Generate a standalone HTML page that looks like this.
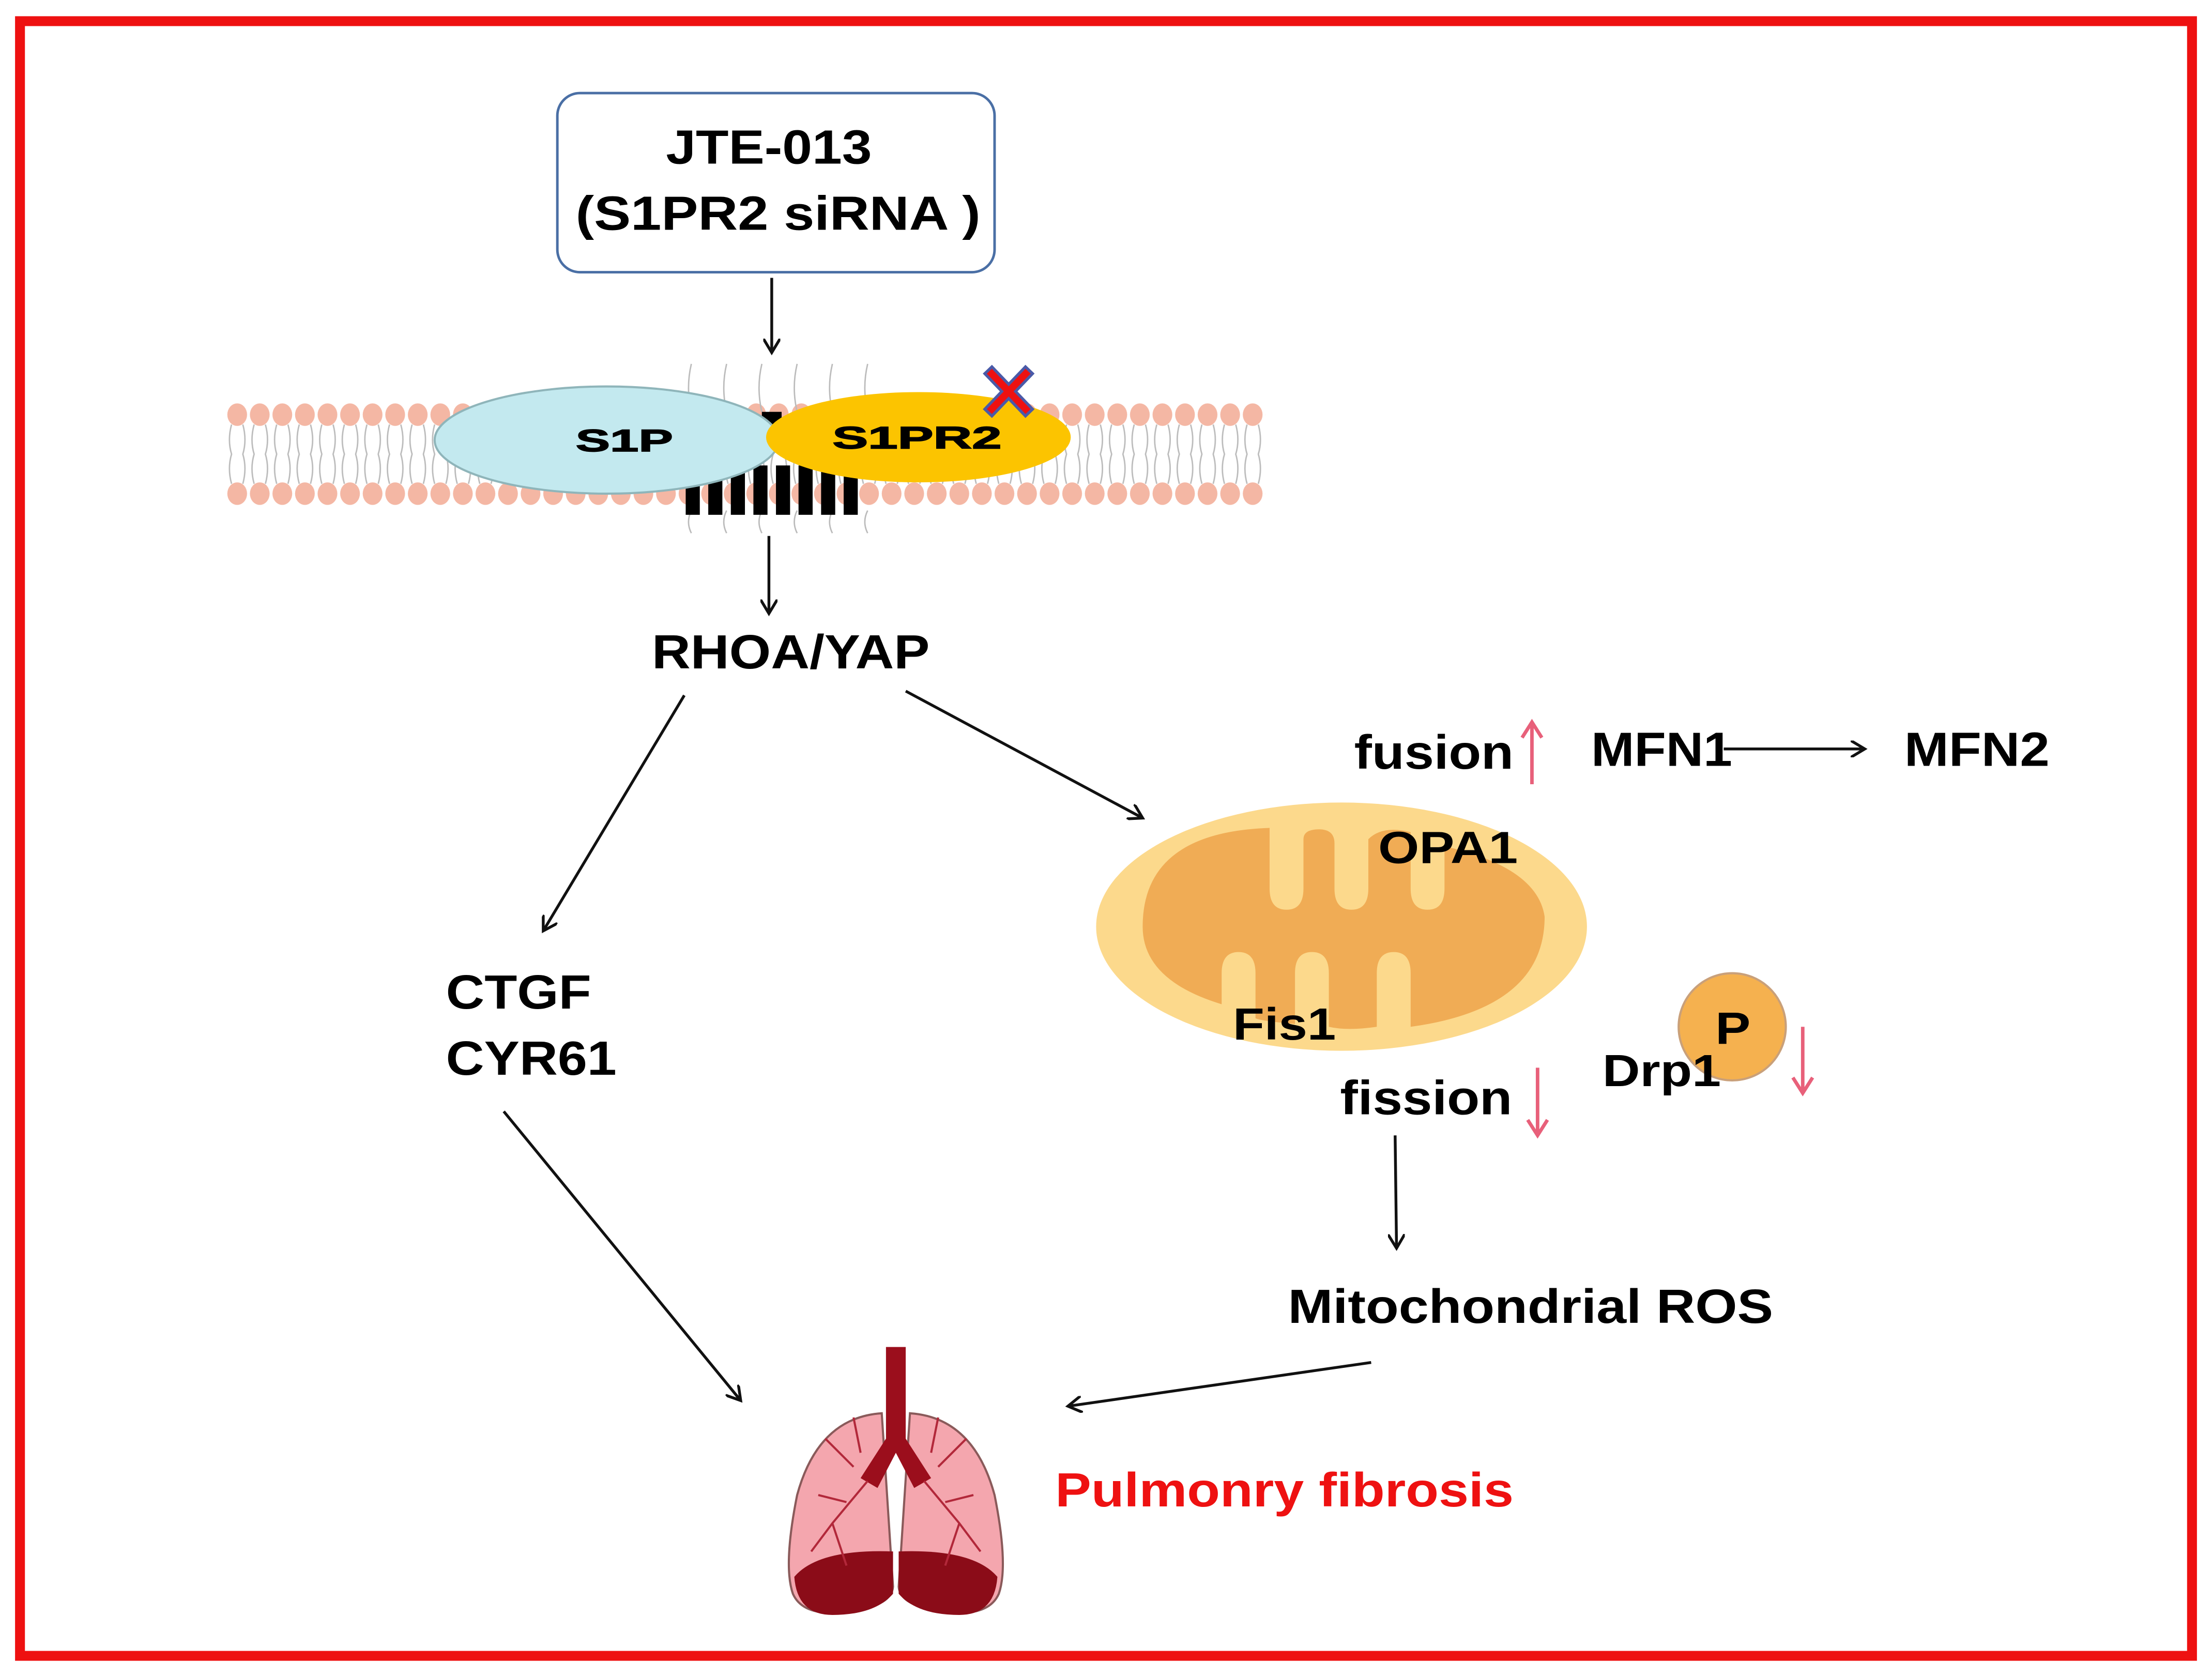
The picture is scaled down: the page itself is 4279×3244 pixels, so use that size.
<!DOCTYPE html>
<html><head><style>html,body{margin:0;padding:0;background:#fff}svg{display:block}</style></head>
<body>
<svg width="4279" height="3244" viewBox="0 0 1568 1189" xmlns="http://www.w3.org/2000/svg" font-family="'Liberation Sans', Arial, sans-serif" font-weight="bold">
<defs>
<marker id="ah" markerWidth="12" markerHeight="12" refX="10" refY="6" orient="auto" markerUnits="userSpaceOnUse"><path d="M0,0 L10,6 L0,12" fill="none" stroke="#111" stroke-width="2"/></marker>
<pattern id="mem" x="160" y="285" width="16" height="74" patternUnits="userSpaceOnUse">
<ellipse cx="8" cy="9" rx="7" ry="8" fill="#f4b7a4"/>
<ellipse cx="8" cy="65" rx="7" ry="8" fill="#f4b7a4"/>
<path d="M4,16 Q1,27 4,37 Q1,47 4,58 M12,16 Q15,27 12,37 Q15,47 12,58" fill="none" stroke="#bbb" stroke-width="1"/>
</pattern>
</defs>
<rect x="0" y="0" width="1568" height="1189" fill="#fff"/>
<rect x="14" y="15" width="1540" height="1159" fill="none" stroke="#ee1111" stroke-width="7"/>

<rect x="395" y="66" width="310" height="127" rx="16" fill="#fff" stroke="#4a6fa5" stroke-width="1.8"/>
<text x="472" y="116" font-size="34" textLength="146" lengthAdjust="spacingAndGlyphs">JTE-013</text>
<text x="408" y="163" font-size="34" textLength="287" lengthAdjust="spacingAndGlyphs">(S1PR2 siRNA )</text>
<line x1="547" y1="197" x2="547" y2="250" stroke="#111" stroke-width="2" marker-end="url(#ah)"/>

<rect x="160" y="285" width="737" height="74" fill="url(#mem)"/>
<g stroke="#bbb" stroke-width="1" fill="none">
<path d="M490,258 Q486,275 490,292 M515,258 Q511,275 515,292 M540,258 Q536,275 540,292 M565,258 Q561,275 565,292 M590,258 Q586,275 590,292 M615,258 Q611,275 615,292"/>
<path d="M490,362 Q486,370 490,378 M515,362 Q511,370 515,378 M540,362 Q536,370 540,378 M565,362 Q561,370 565,378 M590,362 Q586,370 590,378 M615,362 Q611,370 615,378"/>
</g>
<g fill="#000"><rect x="486" y="330" width="10" height="35"/><rect x="502" y="330" width="10" height="35"/><rect x="518" y="330" width="10" height="35"/><rect x="534" y="330" width="10" height="35"/><rect x="550" y="330" width="10" height="35"/><rect x="566" y="330" width="10" height="35"/><rect x="582" y="330" width="10" height="35"/><rect x="598" y="330" width="10" height="35"/><rect x="540" y="292" width="14" height="12"/></g>
<ellipse cx="430" cy="312" rx="122" ry="38" fill="#c3e9ef" stroke="#8fb5ba" stroke-width="1.5"/>
<ellipse cx="651" cy="310" rx="108" ry="32" fill="#fcc400"/>
<text x="408" y="320" font-size="22" textLength="69" lengthAdjust="spacingAndGlyphs" stroke="#000" stroke-width="0.6">S1P</text>
<text x="590" y="318" font-size="22" textLength="120" lengthAdjust="spacingAndGlyphs" stroke="#000" stroke-width="0.6">S1PR2</text>
<g stroke-linecap="square"><path d="M703,265 L727,290 M727,265 L703,290" stroke="#4a5aa8" stroke-width="9"/><path d="M703,265 L727,290 M727,265 L703,290" stroke="#ee1111" stroke-width="5"/></g>

<line x1="545" y1="380" x2="545" y2="435" stroke="#111" stroke-width="2" marker-end="url(#ah)"/>
<text x="462" y="474" font-size="34" textLength="197" lengthAdjust="spacingAndGlyphs">RHOA/YAP</text>
<line x1="485" y1="493" x2="385" y2="660" stroke="#111" stroke-width="2" marker-end="url(#ah)"/>
<line x1="642" y1="490" x2="810" y2="580" stroke="#111" stroke-width="2" marker-end="url(#ah)"/>
<text x="316" y="715" font-size="34" textLength="103" lengthAdjust="spacingAndGlyphs">CTGF</text>
<text x="316" y="762" font-size="34" textLength="121" lengthAdjust="spacingAndGlyphs">CYR61</text>
<line x1="357" y1="788" x2="525" y2="993" stroke="#111" stroke-width="2" marker-end="url(#ah)"/>

<ellipse cx="951" cy="657" rx="174" ry="88" fill="#fcd98c"/>
<path d="M810,657 Q810,590 900,587 L900,630 Q900,645 912,645 Q924,645 924,630 L924,595 Q924,588 935,588 Q946,588 946,598 L946,630 Q946,645 958,645 Q970,645 970,630 L970,595 Q980,585 1000,590 L1000,630 Q1000,645 1012,645 Q1024,645 1024,630 L1024,600 Q1090,615 1095,650 Q1095,715 1000,728 L1000,690 Q1000,675 988,675 Q976,675 976,690 L976,728 Q955,731 942,728 L942,690 Q942,675 930,675 Q918,675 918,690 L918,726 Q895,724 890,722 L890,690 Q890,675 878,675 Q866,675 866,690 L866,712 Q810,695 810,657 Z" fill="#f0ac55"/>
<text x="977" y="612" font-size="32" textLength="99" lengthAdjust="spacingAndGlyphs">OPA1</text>
<text x="874" y="737" font-size="32" textLength="73" lengthAdjust="spacingAndGlyphs">Fis1</text>

<text x="960" y="545" font-size="34" textLength="113" lengthAdjust="spacingAndGlyphs">fusion</text>
<g stroke="#e8607a" stroke-width="2.5" fill="none">
<path d="M1086,556 L1086,512 M1079,523 L1086,512 L1093,523"/>
<path d="M1278,728 L1278,775 M1271,764 L1278,775 L1285,764"/>
<path d="M1090,757 L1090,805 M1083,794 L1090,805 L1097,794"/>
</g>
<text x="1128" y="543" font-size="34" textLength="100" lengthAdjust="spacingAndGlyphs">MFN1</text>
<line x1="1222" y1="531" x2="1322" y2="531" stroke="#111" stroke-width="2" marker-end="url(#ah)"/>
<text x="1350" y="543" font-size="34" textLength="103" lengthAdjust="spacingAndGlyphs">MFN2</text>

<circle cx="1228" cy="728" r="38" fill="#f5b14f" stroke="#c9a07a" stroke-width="1.5"/>
<text x="1216" y="740" font-size="32" textLength="25" lengthAdjust="spacingAndGlyphs">P</text>
<text x="1136" y="770" font-size="32" textLength="84" lengthAdjust="spacingAndGlyphs">Drp1</text>
<text x="950" y="790" font-size="34" textLength="122" lengthAdjust="spacingAndGlyphs">fission</text>

<line x1="989" y1="805" x2="990" y2="885" stroke="#111" stroke-width="2" marker-end="url(#ah)"/>
<text x="913" y="938" font-size="34" textLength="344" lengthAdjust="spacingAndGlyphs">Mitochondrial ROS</text>
<line x1="972" y1="966" x2="757" y2="997" stroke="#111" stroke-width="2" marker-end="url(#ah)"/>

<g>
<path d="M625,1002 Q580,1005 565,1060 Q555,1110 562,1130 Q570,1148 605,1142 Q632,1138 633,1125 Z" fill="#f4a6ae" stroke="#8a5a5a" stroke-width="1.5"/>
<path d="M645,1002 Q690,1005 705,1060 Q715,1110 708,1130 Q700,1148 665,1142 Q638,1138 637,1125 Z" fill="#f4a6ae" stroke="#8a5a5a" stroke-width="1.5"/>
<path d="M563,1118 Q580,1098 633,1100 L633,1130 Q620,1145 590,1145 Q565,1145 563,1118 Z" fill="#8b0c18"/>
<path d="M707,1118 Q690,1098 637,1100 L637,1130 Q650,1145 680,1145 Q705,1145 707,1118 Z" fill="#8b0c18"/>
<path d="M628,955 L642,955 L642,1020 L660,1048 L648,1055 L635,1030 L622,1055 L610,1048 L628,1020 Z" fill="#9b0e1c"/>
<g stroke="#b2283a" stroke-width="1.5" fill="none">
<path d="M615,1050 L590,1080 L575,1100 M600,1065 L580,1060 M605,1040 L585,1020 M590,1080 L600,1110 M610,1030 L605,1005"/>
<path d="M655,1050 L680,1080 L695,1100 M670,1065 L690,1060 M665,1040 L685,1020 M680,1080 L670,1110 M660,1030 L665,1005"/>
</g>
</g>
<text x="748" y="1068" font-size="34" fill="#ee1111" textLength="325" lengthAdjust="spacingAndGlyphs">Pulmonry fibrosis</text>
</svg>
</body></html>
